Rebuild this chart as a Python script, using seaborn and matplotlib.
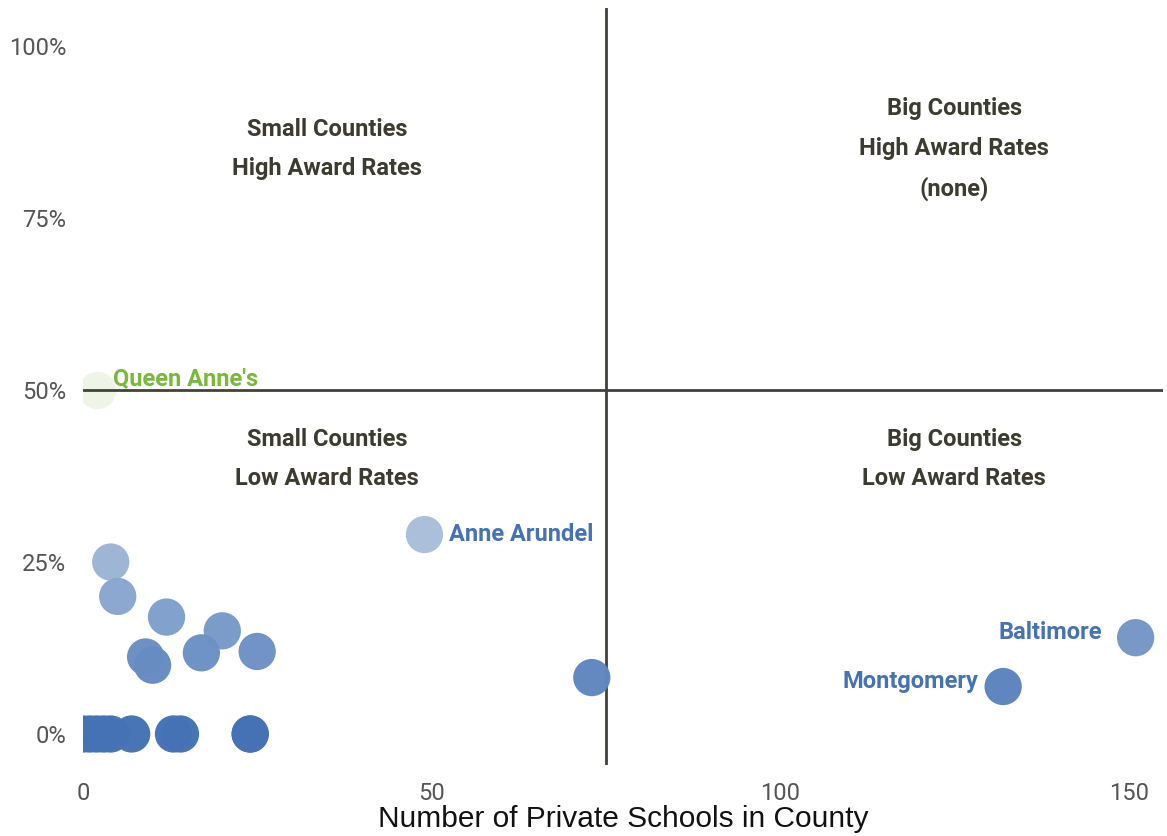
import numpy as np
import pandas as pd
import matplotlib
matplotlib.use("Agg")
import matplotlib.pyplot as plt
from matplotlib import font_manager
from matplotlib.colors import LinearSegmentedColormap
from matplotlib.ticker import PercentFormatter
import seaborn as sns

# county data: private schools vs award rate
counties = ["Queen Anne's", "c1", "c2", "c3", "c4", "c5", "c6", "c7", "c8",
            "Anne Arundel", "c10", "Montgomery", "Baltimore",
            "z1", "z2", "z3", "z4", "z5", "z6", "z7", "z8", "z9", "z10"]
schools = [2, 4, 5, 12, 20, 25, 17, 9, 10,
           49, 73, 132, 151,
           0, 1, 2, 3, 4, 7, 13, 14, 24, 24]
award_rate = [0.50, 0.25, 0.20, 0.17, 0.15, 0.12, 0.118, 0.112, 0.10,
              0.29, 0.082, 0.069, 0.14,
              0, 0, 0, 0, 0, 0, 0, 0, 0, 0]
labelled = {"Anne Arundel": (3.5, 0.0, "left"),
            "Baltimore": (-4.8, 0.007, "right"),
            "Montgomery": (-3.6, 0.008, "right")}

quadrants = [(35, 0.85, "Small Counties\nHigh Award Rates"),
             (125, 0.85, "Big Counties\nHigh Award Rates\n(none)"),
             (35, 0.40, "Small Counties\nLow Award Rates"),
             (125, 0.40, "Big Counties\nLow Award Rates")]

df = pd.DataFrame({"county": counties, "schools": schools, "rate": award_rate})

names = {f.name for f in font_manager.fontManager.ttflist}
narrow = "Liberation Sans Narrow" if "Liberation Sans Narrow" in names else "Roboto"

sns.set_style("white")
plt.rcParams["font.family"] = ["Liberation Sans", "DejaVu Sans"]

fig, ax = plt.subplots(figsize=(11.67, 8.36), dpi=100)
fig.subplots_adjust(left=0.071, right=0.997, top=0.99, bottom=0.085)

blue_map = LinearSegmentedColormap.from_list("bw", ["#4472b4", "#f4f5f8"])
main = df[df.county != "Queen Anne's"]
sns.scatterplot(data=main, x="schools", y="rate", hue="rate", palette=blue_map,
                hue_norm=(0, 0.5), s=720, linewidth=0, legend=False, ax=ax,
                alpha=0.98, zorder=3)
qa = df[df.county == "Queen Anne's"]
sns.scatterplot(data=qa, x="schools", y="rate", color="#eef5e7", s=720,
                linewidth=0, legend=False, ax=ax, zorder=1)

ax.axvline(75, color="#41423a", lw=2, zorder=2)
ax.axhline(0.5, color="#41423a", lw=2, zorder=2)

ax.text(4.3, 0.517, "Queen Anne's", color="#78b83a", fontsize=17,
        fontweight="bold", family=narrow, ha="left", va="center")
for _, r in main[main.county.isin(labelled)].iterrows():
    dx, dy, ha = labelled[r.county]
    ax.text(r.schools + dx, r.rate + dy, r.county, color="#4472b4", fontsize=17,
            fontweight="bold", family=narrow, ha=ha, va="center")

for x, y, t in quadrants:
    ax.text(x, y, t, color="#3b3b30", fontsize=17, fontweight="bold",
            family=narrow, ha="center", va="center", linespacing=1.9)

ax.set_xlim(0, 155)
ax.set_ylim(-0.045, 1.055)
ax.set_xticks([0, 50, 100, 150])
ax.set_yticks([0, 0.25, 0.5, 0.75, 1.0])
ax.yaxis.set_major_formatter(PercentFormatter(1.0, decimals=0))
ax.tick_params(labelsize=17, colors="#555555", length=0)
ax.tick_params(axis="y", pad=12)
ax.tick_params(axis="x", pad=12)
for lab in ax.get_xticklabels() + ax.get_yticklabels():
    lab.set_family(narrow)
ax.set_xlabel("Number of Private Schools in County", fontsize=21.5,
              color="#111111", labelpad=0)
ax.set_ylabel("")
sns.despine(ax=ax, left=True, bottom=True)

fig.savefig("out.png", dpi=100)
